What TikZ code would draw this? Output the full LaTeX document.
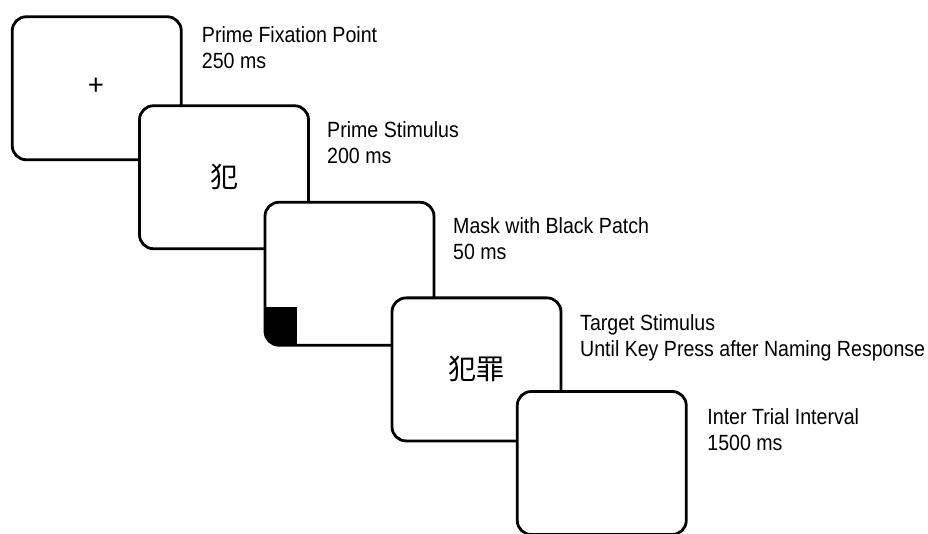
\documentclass[tikz,border=0pt]{standalone}
\usepackage{fontspec}
\setmainfont{Liberation Sans}[FakeStretch=0.89]
\newfontfamily\cjk{Noto Sans CJK SC}
\usepackage{tikz}
\usetikzlibrary{positioning,calc}
\tikzset{SCREEN/.style={rectangle,rounded corners=14pt,draw,line width=2.8pt,fill=white,minimum width=169pt,minimum height=143pt,inner sep=0pt,outer sep=0pt,font=\cjk\fontsize{28}{30}\selectfont}}
\tikzset{LABEL/.style={align=left,anchor=north west,inner sep=0pt,font=\fontsize{22}{26}\selectfont}}
\tikzset{PATCH/.style={fill=black}}

\begin{document}
\begin{tikzpicture}[x=1pt,y=-1pt]
\useasboundingbox (0,0) rectangle (928,534);

\node[SCREEN] (n_fixation) at (96.75,88.25) {\raisebox{3pt}{+}};
\node[LABEL] (n_fixation_text) at ($(n_fixation.north east)+(20.5,10)$) {Prime Fixation Point\\250 ms};

\node[SCREEN] (n_prime) at (224,177.25) {犯};
\node[LABEL] (n_prime_text) at ($(n_prime.north east)+(18.5,16)$) {Prime Stimulus\\200 ms};

\node[SCREEN] (n_mask) at (349.5,273.75) {};
\node[LABEL] (n_mask_text) at ($(n_mask.north east)+(19,15)$) {Mask with Black Patch\\50 ms};

\begin{scope}
\clip[rounded corners=14pt] (n_mask.south west) rectangle (n_mask.north east);
\fill[PATCH] (n_mask.south west) rectangle ++(32,-38);
\end{scope}

\node[SCREEN] (n_target) at (476.5,369.4) {犯罪};
\node[LABEL] (n_target_text) at ($(n_target.north east)+(19,16.5)$) {Target Stimulus\\Until Key Press after Naming Response};

\node[SCREEN] (n_interval) at (601.75,463) {};
\node[LABEL] (n_interval_text) at ($(n_interval.north east)+(21,16.5)$) {Inter Trial Interval\\1500 ms};

\end{tikzpicture}
\end{document}
